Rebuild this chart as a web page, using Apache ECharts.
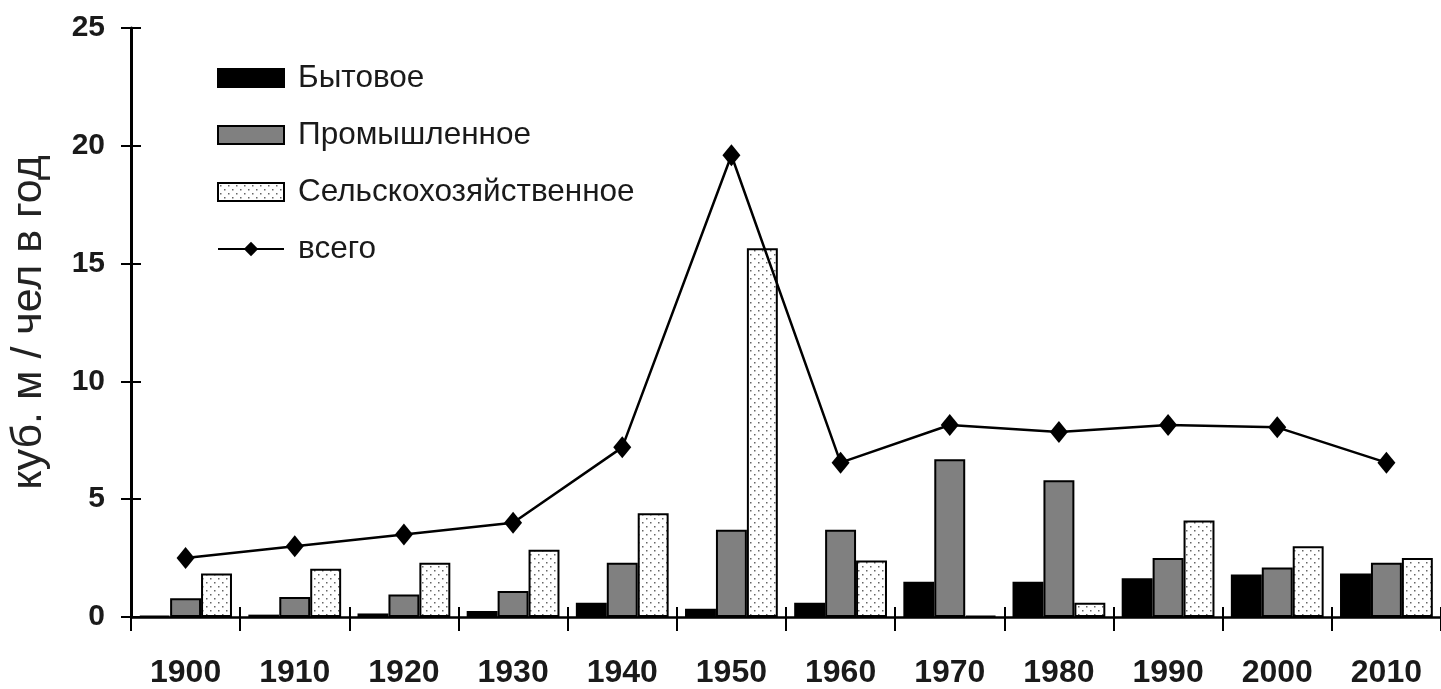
<!DOCTYPE html>
<html>
<head>
<meta charset="utf-8">
<script src="https://cdn.jsdelivr.net/npm/echarts@6/dist/echarts.min.js"></script>
<style>
  html, body { margin: 0; padding: 0; background: #fff; }
  #chart { width: 1441px; height: 689px; }
</style>
</head>
<body>
<div id="chart"></div>
<script>
// данные
const categories = ["1900", "1910", "1920", "1930", "1940", "1950", "1960", "1970", "1980", "1990", "2000", "2010"];
const bytovoe = [0.05, 0.1, 0.15, 0.25, 0.6, 0.35, 0.6, 1.5, 1.5, 1.65, 1.8, 1.85];
const promyshlennoe = [0.8, 0.85, 0.95, 1.1, 2.3, 3.7, 3.7, 6.7, 5.8, 2.5, 2.1, 2.3];
const selskoe = [1.85, 2.05, 2.3, 2.85, 4.4, 15.65, 2.4, 0.05, 0.6, 4.1, 3.0, 2.5];
const vsego = [2.5, 3.0, 3.5, 4.0, 7.2, 19.6, 6.55, 8.15, 7.85, 8.15, 8.05, 6.55];
const yTicks = [0, 5, 10, 15, 20, 25];

// точечная заливка
const dots = document.createElement("canvas");
dots.width = 8;
dots.height = 8;
const dctx = dots.getContext("2d");
dctx.fillStyle = "#fff";
dctx.fillRect(0, 0, 8, 8);
dctx.fillStyle = "#666";
dctx.fillRect(2, 2, 1.5, 1.5);
dctx.fillRect(6, 6, 1.5, 1.5);

const font = "'Liberation Sans', Arial, sans-serif";
const chart = echarts.init(document.getElementById("chart"));

const option = {
  animation: false,
  backgroundColor: "#fff",
  textStyle: { fontFamily: font },
  legend: {
    orient: "vertical",
    left: 212,
    top: 57,
    itemWidth: 66,
    itemHeight: 18,
    itemGap: 25,
    textStyle: { fontSize: 31.5, lineHeight: 31, color: "#1a1a1a", fontFamily: font, padding: [0, 0, 0, 9] },
    data: [
      { name: "Бытовое", icon: "rect" },
      { name: "Промышленное", icon: "rect" },
      { name: "Сельскохозяйственное", icon: "rect" },
      { name: "всего" },
    ],
  },
  grid: { left: 130, right: -3, top: 28, bottom: 72 },
  xAxis: [
    {
      type: "category",
      data: categories,
      axisLine: { lineStyle: { color: "#000", width: 2.5 } },
      axisTick: { show: true, length: 14, lineStyle: { color: "#000", width: 2 } },
      axisLabel: { fontSize: 32, fontWeight: "bold", color: "#1a1a1a", margin: 40, fontFamily: font },
    },
    {
      type: "category",
      data: categories,
      position: "bottom",
      axisLine: { show: false },
      axisTick: { show: true, inside: true, length: 10, lineStyle: { color: "#000", width: 2 } },
      axisLabel: { show: false },
    },
  ],
  yAxis: [
    {
      type: "value",
      min: 0,
      max: 25,
      interval: 5,
      name: "куб. м / чел в год",
      nameLocation: "middle",
      nameRotate: 90,
      nameGap: 80,
      nameTextStyle: { fontSize: 43, color: "#222", fontFamily: font },
      axisLine: { show: true, lineStyle: { color: "#000", width: 3 } },
      axisTick: { show: true, length: 10, lineStyle: { color: "#000", width: 2 } },
      axisLabel: { fontSize: 30, fontWeight: "bold", color: "#1a1a1a", margin: 26, fontFamily: font,
        formatter: (v) => (yTicks.includes(v) ? String(v) : "") },
      splitLine: { show: false },
    },
    {
      type: "value",
      min: 0,
      max: 25,
      interval: 5,
      position: "left",
      axisLine: { show: false },
      axisTick: { show: true, inside: true, length: 10, lineStyle: { color: "#000", width: 2 } },
      axisLabel: { show: false },
      splitLine: { show: false },
    },
  ],
  series: [
    {
      name: "Бытовое",
      type: "bar",
      data: bytovoe,
      barGap: "0%",
      barCategoryGap: "15%",
      itemStyle: { color: "#000", borderColor: "#000", borderWidth: 2 },
    },
    {
      name: "Промышленное",
      type: "bar",
      data: promyshlennoe,
      itemStyle: { color: "#808080", borderColor: "#000", borderWidth: 2 },
    },
    {
      name: "Сельскохозяйственное",
      type: "bar",
      data: selskoe,
      itemStyle: { color: { image: dots, repeat: "repeat" }, borderColor: "#000", borderWidth: 2 },
    },
    {
      name: "всего",
      type: "line",
      data: vsego,
      symbol: "diamond",
      symbolSize: [18, 22],
      itemStyle: { color: "#000" },
      lineStyle: { color: "#000", width: 2.5 },
      z: 5,
    },
  ],
};

chart.setOption(option);
</script>
</body>
</html>
